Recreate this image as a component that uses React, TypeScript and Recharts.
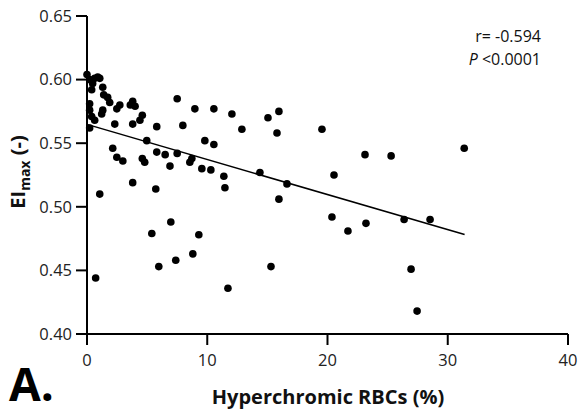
import { ScatterChart, Scatter, XAxis, YAxis, ReferenceLine } from "recharts";

// Hyperchromic RBCs (%) vs EI max, one entry per patient
const hyperchromicPct = [
  0.0, 0.22, 0.64, 0.89, 1.06, 0.47, 0.39, 1.31, 1.39, 1.72,
  1.89, 0.22, 0.22, 0.39, 2.73, 2.48, 1.31, 1.22, 3.8, 4.0,
  3.6, 0.64, 0.22, 2.31, 3.8, 2.14, 2.48, 2.98, 4.6, 4.8,
  7.5, 7.97, 5.8, 4.6, 4.4, 4.97, 5.8, 6.5, 7.5, 6.9,
  3.8, 5.72, 6.97, 5.39, 7.38, 5.97, 1.06, 0.72,
  8.97, 10.55, 12.05, 12.88, 9.8, 10.55, 8.72, 8.55, 9.55, 10.3,
  11.38, 11.47, 11.72, 9.3, 8.8,
  15.05, 15.96, 15.8, 14.38, 16.63, 15.96, 15.3,
  19.54, 20.54, 20.37, 21.7, 23.12, 23.2, 25.29, 26.37, 28.53, 26.95,
  27.45, 31.37,
];

const eiMax = [
  0.604, 0.6, 0.601, 0.602, 0.601, 0.597, 0.592, 0.594, 0.588, 0.586,
  0.582, 0.581, 0.576, 0.571, 0.58, 0.577, 0.576, 0.573, 0.583, 0.579,
  0.58, 0.568, 0.562, 0.565, 0.565, 0.546, 0.539, 0.536, 0.538, 0.535,
  0.585, 0.564, 0.563, 0.572, 0.568, 0.552, 0.543, 0.541, 0.542, 0.532,
  0.519, 0.514, 0.488, 0.479, 0.458, 0.453, 0.51, 0.444,
  0.577, 0.577, 0.573, 0.561, 0.552, 0.549, 0.538, 0.535, 0.53, 0.529,
  0.524, 0.515, 0.436, 0.478, 0.463,
  0.57, 0.575, 0.558, 0.527, 0.518, 0.506, 0.453,
  0.561, 0.525, 0.492, 0.481, 0.541, 0.487, 0.54, 0.49, 0.49, 0.451,
  0.418, 0.546,
];

const fitLine = [
  { x: 0, y: 0.5648 },
  { x: 31.4, y: 0.4782 },
];

const xTicks = [0, 10, 20, 30, 40];
const yTicks = [0.4, 0.45, 0.5, 0.55, 0.6, 0.65];
const statLines = ["r= -0.594", "<0.0001"];

const points = hyperchromicPct.map((x, i) => ({ x, y: eiMax[i] }));

const font = "'Open Sans', 'Noto Sans', sans-serif";

const Dot = (p: any) => <circle cx={p.cx} cy={p.cy} r={3.8} fill="#000" />;

export default function App() {
  return (
    <div style={{ position: "absolute", left: 0, top: 0, width: 578, height: 413, background: "#fff" }}>
      <ScatterChart width={578} height={413} margin={{ top: 16, right: 10, bottom: 0, left: 0 }}>
        <XAxis
          type="number"
          dataKey="x"
          domain={[0, 40]}
          ticks={xTicks}
          height={79}
          tickSize={11}
          tickMargin={9}
          axisLine={{ stroke: "#000", strokeWidth: 2 }}
          tickLine={{ stroke: "#000", strokeWidth: 2 }}
          tick={{ fill: "#222", fontSize: 16.5, fontFamily: font }}
        />
        <YAxis
          type="number"
          dataKey="y"
          domain={[0.4, 0.65]}
          ticks={yTicks}
          width={87}
          tickSize={11}
          tickMargin={4}
          tickFormatter={(v: number) => v.toFixed(2)}
          axisLine={{ stroke: "#000", strokeWidth: 2 }}
          tickLine={{ stroke: "#000", strokeWidth: 2 }}
          tick={{ fill: "#222", fontSize: 16.5, fontFamily: font }}
        />
        <ReferenceLine
          segment={fitLine}
          stroke="#000"
          strokeWidth={1.5}
        />
        <Scatter data={points} shape={Dot} isAnimationActive={false} />
      </ScatterChart>
      <svg
        width={578}
        height={413}
        style={{ position: "absolute", left: 0, top: 0, pointerEvents: "none" }}
      >
        <text
          transform="translate(25,172) rotate(-90)"
          textAnchor="middle"
          fontFamily={font}
          fontWeight={700}
          fontSize={20}
          fill="#111"
        >
          EI
          <tspan fontSize={14} dy={5}>max</tspan>
          <tspan dy={-5}> (-)</tspan>
        </text>
        <text x={328} y={404} textAnchor="middle" fontFamily={font} fontWeight={700} fontSize={20} fill="#111">
          Hyperchromic RBCs (%)
        </text>
        <text x={9} y={401} fontFamily={font} fontWeight={700} fontSize={46} fill="#000">
          A.
        </text>
        <text x={541} y={42} textAnchor="end" fontFamily={font} fontSize={16} fill="#111">
          {statLines[0]}
        </text>
        <text x={541} y={65} textAnchor="end" fontFamily={font} fontSize={16} fill="#111">
          <tspan fontStyle="italic">P</tspan> {statLines[1]}
        </text>
      </svg>
    </div>
  );
}
